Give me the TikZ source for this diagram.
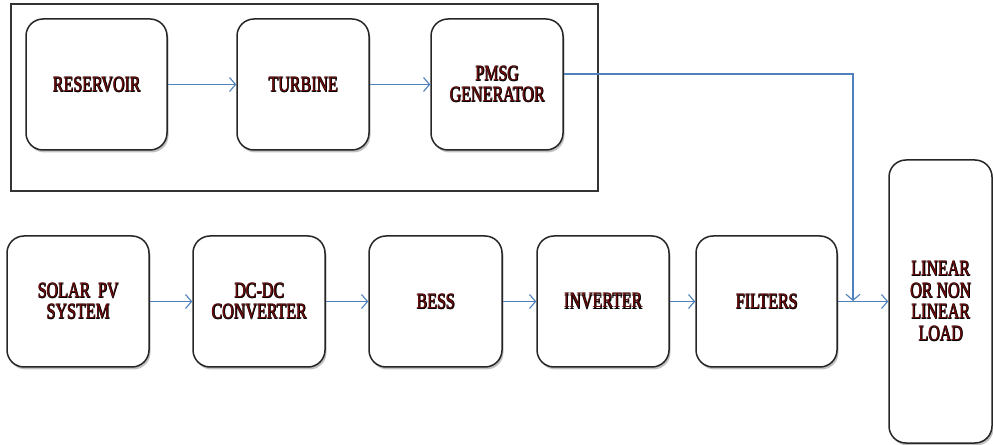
\documentclass[tikz,border=0pt]{standalone}
\usepackage{fontspec}
\setmainfont{Liberation Serif}
\newfontfamily\lblfont{Liberation Serif}
\usepackage{graphicx}
\usetikzlibrary{arrows.meta,shadows}
\newlength\pxl
\setlength\pxl{0.75pt}
\definecolor{arrowblue}{HTML}{4F81BD}
\definecolor{txtred}{HTML}{700D0D}
\newcommand\blkcopy[3]{\makebox[0pt][l]{\kern#1\raisebox{#2}{\color{black}#3}}}
\newcommand\tx[1]{\scalebox{1}[1.37]{\blkcopy{0.6pt}{-0.6pt}{#1}\blkcopy{0.6pt}{0pt}{#1}\blkcopy{0pt}{-0.6pt}{#1}{\color{txtred}#1}}}
\tikzset{
  blk/.style={draw=black!85, line width=1.5\pxl, rounded corners=17\pxl, fill=white,
    drop shadow={shadow xshift=1.5\pxl, shadow yshift=-2.5\pxl, opacity=0.35, fill=black!70},
    inner sep=0pt, align=center, font=\lblfont\fontsize{12}{16.1}\selectfont},
  conn/.style={draw=arrowblue, line width=0.83pt, -{Straight Barb[length=4.5pt,width=10.5pt]}},
  grpbox/.style={draw=black!80, line width=1.6\pxl, inner sep=0pt}
}
\begin{document}
\begin{tikzpicture}[x=0.75pt,y=-0.75pt]
\useasboundingbox (0,0) rectangle (993,445);
\node[grpbox, minimum width=587\pxl, minimum height=187\pxl] (grp) at (304.5,97.5) {};
% top row
\node[blk, minimum width=141\pxl, minimum height=131\pxl] (res) at (96.5,84.5) {\tx{RESERVOIR}};
\node[blk, minimum width=132\pxl, minimum height=131\pxl] (tur) at (303,84.5) {\tx{TURBINE}};
\node[blk, minimum width=132\pxl, minimum height=131\pxl] (pmsg) at (497,84.5) {\tx{PMSG}\\\tx{GENERATOR}};
% bottom row
\node[blk, minimum width=142\pxl, minimum height=131\pxl] (solar) at (78,301.5) {\tx{SOLAR\ \ PV}\\\tx{SYSTEM}};
\node[blk, minimum width=132\pxl, minimum height=131\pxl] (dcdc) at (259,301.5) {\tx{DC-DC}\\\tx{CONVERTER}};
\node[blk, minimum width=133\pxl, minimum height=131\pxl] (bess) at (435.5,301.5) {\tx{BESS}};
\node[blk, minimum width=132\pxl, minimum height=131\pxl] (inv) at (603,301.5) {\tx{INVERTER}};
\node[blk, minimum width=141\pxl, minimum height=131\pxl] (filt) at (766.5,301.5) {\tx{FILTERS}};
\node[blk, minimum width=103\pxl, minimum height=283\pxl] (load) at (940.5,301.5) {\tx{LINEAR}\\\tx{OR NON}\\\tx{LINEAR}\\\tx{LOAD}};
\coordinate (jn) at (853,301);
% connectors
\draw[conn] (res) -- (tur);
\draw[conn] (tur) -- (pmsg);
\draw[conn] ([yshift=7.9pt]pmsg.east) -| (jn);
\draw[conn] (solar) -- (dcdc);
\draw[conn] (dcdc) -- (bess);
\draw[conn] (bess) -- (inv);
\draw[conn] (inv) -- (filt);
\draw[conn] (filt) -- (load);
\end{tikzpicture}
\end{document}
